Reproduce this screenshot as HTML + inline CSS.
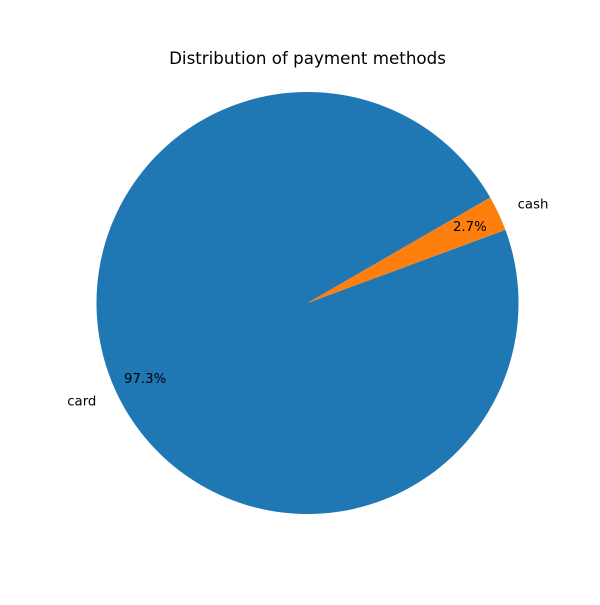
<!DOCTYPE html>
<html><head><meta charset="utf-8"><style>
body{margin:0;background:#fff}
text{font-family:"DejaVu Sans","Liberation Sans",sans-serif;fill:#000}
</style></head><body>
<svg id="chart" width="600" height="600">
<text x="307.5" y="64" text-anchor="middle" font-size="16.7">Distribution of payment methods</text>
<g id="slices"></g>
</svg>
<script>
const categories = ["card", "cash"];
const values = [97.3, 2.7];
const colors = ["#1f77b4", "#ff7f0e"];
const startAngle = 30;
const cx = 307.5, cy = 303, r = 211;
const g = document.getElementById('slices');
const NS = "http://www.w3.org/2000/svg";
const total = values.reduce((a,b)=>a+b,0);
function pt(deg, rad){const a=deg*Math.PI/180;return [cx+rad*Math.cos(a), cy-rad*Math.sin(a)];}
let ang = startAngle;
values.forEach((v,i)=>{
  const sweep = v/total*360;
  const a0 = ang, a1 = ang+sweep;
  const p0 = pt(a0,r), p1 = pt(a1,r);
  const large = sweep>180?1:0;
  const path = document.createElementNS(NS,'path');
  path.setAttribute('d',`M${cx},${cy} L${p0[0]},${p0[1]} A${r},${r} 0 ${large} 0 ${p1[0]},${p1[1]} Z`);
  path.setAttribute('fill',colors[i]);
  
  
  g.appendChild(path);
  const mid = (a0+a1)/2;
  const lp = pt(mid, r*1.1);
  const cosm = Math.cos(mid*Math.PI/180);
  const lab = document.createElementNS(NS,'text');
  lab.setAttribute('x',lp[0]-(cosm<0?1:0)); lab.setAttribute('y',lp[1]+4);
  lab.setAttribute('font-size','13.3');
  lab.setAttribute('text-anchor', cosm<0?'end':'start');
  lab.textContent = categories[i];
  
  
  g.appendChild(lab);
  const pp = pt(mid, r*0.85);
  const pct = document.createElementNS(NS,'text');
  pct.setAttribute('x',pp[0]); pct.setAttribute('y',pp[1]+4);
  pct.setAttribute('font-size','13.3');
  pct.setAttribute('text-anchor','middle');
  pct.textContent = (v/total*100).toFixed(1)+'%';
  
  
  g.appendChild(pct);
  ang = a1;
});
</script>
</body></html>
